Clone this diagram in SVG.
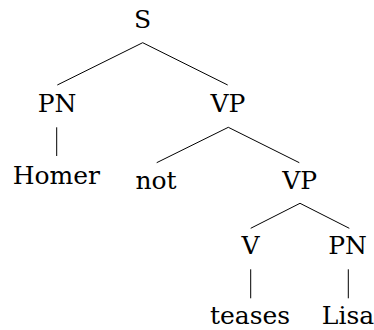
<svg xmlns="http://www.w3.org/2000/svg" width="374" height="330" viewBox="0 0 374 330">
<style>
text{font-family:"DejaVu Serif","Liberation Serif",serif;font-size:25px;fill:#000;text-anchor:middle}
line{stroke:#000;stroke-width:1}
</style>
<rect width="374" height="330" fill="#fff"/>
<g id="connectors">
<line x1="142.7" y1="42.7" x2="57.3" y2="85"/>
<line x1="142.7" y1="42.7" x2="227.7" y2="85"/>
<line x1="56.7" y1="127.3" x2="56.7" y2="156"/>
<line x1="228.3" y1="127.3" x2="156.7" y2="162.7"/>
<line x1="228.3" y1="127.3" x2="299.3" y2="162.7"/>
<line x1="300" y1="203.3" x2="250.7" y2="228.3"/>
<line x1="300" y1="203.3" x2="349.3" y2="228.3"/>
<line x1="250.7" y1="269.3" x2="250.7" y2="298.3"/>
<line x1="348.3" y1="269.3" x2="348.3" y2="298.3"/>
</g>
<g id="n-S"><text x="142.5" y="28.3">S</text></g>
<g id="n-PN1"><text x="57" y="112">PN</text></g>
<g id="n-VP1"><text x="228" y="112">VP</text></g>
<g id="n-Homer"><text x="56.3" y="184">Homer</text></g>
<g id="n-not"><text x="156" y="189.3">not</text></g>
<g id="n-VP2"><text x="299.7" y="189.3">VP</text></g>
<g id="n-V"><text x="250.5" y="254">V</text></g>
<g id="n-PN2"><text x="347.5" y="254">PN</text></g>
<g id="n-teases"><text x="250" y="324">teases</text></g>
<g id="n-Lisa"><text x="348" y="324">Lisa</text></g>
</svg>
